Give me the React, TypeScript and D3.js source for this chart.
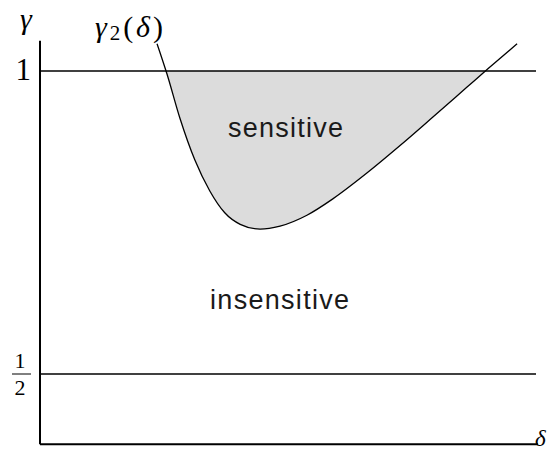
import React from "react";
import * as d3 from "d3";

// boundary curve gamma_2(delta)
const deltaValues = [0.235, 0.255, 0.281, 0.311, 0.341, 0.371, 0.402, 0.442, 0.482, 0.536, 0.588, 0.657, 0.723, 0.789, 0.857, 0.9, 0.958];
const gammaValues = [1.045, 0.995, 0.922, 0.853, 0.802, 0.766, 0.747, 0.739, 0.744, 0.762, 0.789, 0.832, 0.877, 0.924, 0.973, 1.004, 1.045];

const levelLines = [1, 0.5];
const gammaAxisTop = 1.05;
const gammaAxisBottom = 0.384;
const deltaAxisEnd = 1;

const regionLabels = [
  { text: "sensitive", delta: 0.493, gamma: 0.891, width: 115 },
  { text: "insensitive", delta: 0.481, gamma: 0.607, width: 139 },
];

const width = 554;
const height = 450;

const App = () => {
  const xScale = d3.scaleLinear().domain([0, 1]).range([40, 538]);
  const yScale = d3.scaleLinear().domain([0.5, 1]).range([374, 71]);

  const points = deltaValues.map((d, i) => ({ d, g: gammaValues[i] }));

  const line = d3.line<{ d: number; g: number }>()
    .x(p => xScale(p.d))
    .y(p => yScale(p.g))
    .curve(d3.curveMonotoneX);

  const area = d3.area<{ d: number; g: number }>()
    .x(p => xScale(p.d))
    .y0(yScale(1))
    .y1(p => yScale(p.g))
    .curve(d3.curveMonotoneX);

  const x0 = xScale(0);
  const serif = "'Liberation Serif', 'Times New Roman', serif";

  return (
    <svg width={width} height={height} style={{ position: "absolute", left: 0, top: 0, background: "#fff" }}>
      <defs>
        <clipPath id="below-one">
          <rect x={x0} y={yScale(1)} width={xScale(deltaAxisEnd) - x0} height={yScale(gammaAxisBottom) - yScale(1)} />
        </clipPath>
      </defs>

      <path d={area(points) || ""} fill="#dcdcdc" clipPath="url(#below-one)" />

      {/* axes */}
      <line x1={x0} x2={x0} y1={yScale(gammaAxisTop)} y2={yScale(gammaAxisBottom)} stroke="#000" strokeWidth={2} />
      <line x1={x0} x2={xScale(deltaAxisEnd)} y1={yScale(gammaAxisBottom)} y2={yScale(gammaAxisBottom)} stroke="#000" strokeWidth={2} />

      {levelLines.map(g => (
        <line key={g} x1={x0} x2={xScale(deltaAxisEnd) - 2} y1={yScale(g)} y2={yScale(g)} stroke="#000" strokeWidth={1.6} />
      ))}

      <path d={line(points) || ""} fill="none" stroke="#000" strokeWidth={1.3} />

      {regionLabels.map(l => (
        <text
          key={l.text}
          x={xScale(l.delta)}
          y={yScale(l.gamma)}
          textAnchor="middle"
          textLength={l.width}
          lengthAdjust="spacing"
          fontFamily="'Liberation Sans', Arial, sans-serif"
          fontSize={27}
          fill="#1a1a1a"
        >
          {l.text}
        </text>
      ))}

      {/* axis labels */}
      <text x={x0 - 20} y={yScale(gammaAxisTop) - 12} fontFamily={serif} fontStyle="italic" fontSize={30}>γ</text>
      <text x={x0 - 9} y={yScale(1) + 9} textAnchor="end" fontFamily={serif} fontSize={31}>1</text>
      <text x={x0 - 20} y={yScale(0.5) - 6} textAnchor="middle" fontFamily={serif} fontSize={22}>1</text>
      <line x1={x0 - 28} x2={x0 - 9} y1={yScale(0.5)} y2={yScale(0.5)} stroke="#000" strokeWidth={1} />
      <text x={x0 - 20} y={yScale(0.5) + 21} textAnchor="middle" fontFamily={serif} fontSize={22}>2</text>
      <text x={xScale(deltaAxisEnd) - 3} y={yScale(gammaAxisBottom) + 2} fontFamily={serif} fontStyle="italic" fontSize={23}>δ</text>

      <text x={95} y={37} fontFamily={serif} fontSize={30} textLength={68} lengthAdjust="spacing">
        <tspan fontStyle="italic">γ</tspan>
        <tspan fontSize={21} dy={3}>2</tspan>
        <tspan dy={-3}>(</tspan>
        <tspan fontStyle="italic">δ</tspan>
        <tspan>)</tspan>
      </text>
    </svg>
  );
};

export default App;
